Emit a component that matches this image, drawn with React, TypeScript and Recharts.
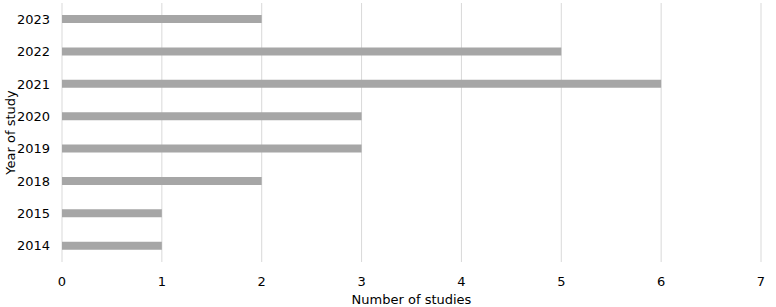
import React from 'react';
import { BarChart, Bar, XAxis, YAxis, CartesianGrid, Label } from 'recharts';

const years = ['2023', '2022', '2021', '2020', '2019', '2018', '2015', '2014'];
const studies = [2, 5, 6, 3, 3, 2, 1, 1];
const xTicks = [0, 1, 2, 3, 4, 5, 6, 7];

const data = years.map((y, i) => ({ year: y, count: studies[i] }));

const font = 'DejaVu Sans';

export default function App() {
  return (
    <div style={{ position: 'absolute', left: 0, top: 0, background: '#fff' }}>
      <BarChart
        width={776}
        height={307}
        data={data}
        layout="vertical"
        margin={{ top: 3, right: 15, left: 0, bottom: 0 }}
      >
        <CartesianGrid horizontal={false} stroke="#d9d9d9" />
        <XAxis
          type="number"
          domain={[0, 7]}
          ticks={xTicks}
          axisLine={false}
          tickLine={false}
          tickSize={0}
          tickMargin={15}
          height={45}
          tick={{ fill: '#000', fontSize: 13, fontFamily: font }}
        >
          <Label
            value="Number of studies"
            position="insideBottom"
            offset={3}
            style={{ fill: '#000', fontSize: 13, fontFamily: font }}
          />
        </XAxis>
        <YAxis
          type="category"
          dataKey="year"
          width={62}
          axisLine={false}
          tickLine={false}
          tickSize={0}
          tickMargin={12}
          tick={{ fill: '#000', fontSize: 13, fontFamily: font }}
        >
          <Label
            value="Year of study"
            angle={-90}
            position="insideLeft"
            offset={10}
            style={{ fill: '#000', fontSize: 13, fontFamily: font, textAnchor: 'middle' }}
          />
        </YAxis>
        <Bar dataKey="count" fill="#a6a6a6" barSize={8} isAnimationActive={false} />
      </BarChart>
    </div>
  );
}
